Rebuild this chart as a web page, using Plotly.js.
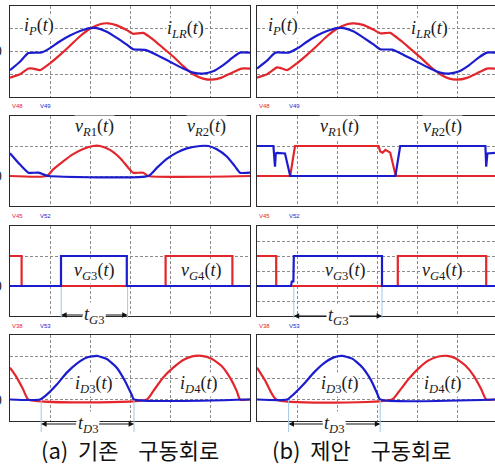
<!DOCTYPE html>
<html>
<head>
<meta charset="utf-8">
<script src="https://cdn.plot.ly/plotly-3.0.1.min.js"></script>
<style>html,body{margin:0;padding:0;background:#fff;}#chart{width:495px;height:467px;}</style>
</head>
<body>
<div id="chart"></div>
<script>
// ---- Data (time in grid divisions, amplitude in grid divisions) ----
// Row 1: currents i_P / i_LR
const r1L_redX = [0,0.25,0.46,0.58,0.75,1.0,1.25,1.5,1.75,2.0,2.25,2.46,2.67,2.92,3.08,3.33,3.58,3.83,4.08,4.33,4.58,4.83,5.04,5.29,5.54,5.79,6.0];
const r1L_redY = [-1.15,-1.0,-0.75,-0.75,-0.82,-0.52,-0.15,0.25,0.67,1.0,1.2,1.24,1.15,0.94,0.78,0.82,0.52,0.15,-0.22,-0.64,-1.0,-1.19,-1.24,-1.15,-0.94,-0.75,-0.75];
const r1L_bluX = [0,0.25,0.46,0.79,1.0,1.25,1.5,1.75,2.0,2.17,2.42,2.67,2.92,3.08,3.38,3.67,4.0,4.33,4.58,4.83,5.08,5.33,5.58,5.75,6.0];
const r1L_bluY = [-0.82,-0.45,-0.07,-0.04,0.15,0.45,0.7,0.9,1.03,1.03,0.87,0.6,0.3,0.1,0.07,-0.15,-0.45,-0.75,-0.93,-0.97,-0.87,-0.6,-0.25,-0.05,-0.05];
const r1R_redX = [0,0.25,0.5,0.58,0.75,1.0,1.25,1.5,1.75,2.0,2.25,2.42,2.67,2.92,3.08,3.33,3.58,3.83,4.08,4.33,4.58,4.79,5.0,5.25,5.5,5.75,5.95];
const r1R_redY = [-1.15,-1.0,-0.7,-0.72,-0.82,-0.52,-0.15,0.25,0.67,1.0,1.2,1.24,1.16,0.95,0.8,0.82,0.5,0.13,-0.25,-0.66,-1.0,-1.18,-1.24,-1.16,-0.96,-0.75,-0.75];
const r1R_bluX = [0,0.25,0.46,0.79,1.0,1.25,1.5,1.75,2.0,2.17,2.42,2.67,2.92,3.08,3.38,3.67,4.0,4.33,4.58,4.79,5.04,5.29,5.54,5.75,5.95];
const r1R_bluY = [-0.75,-0.4,-0.05,-0.05,0.13,0.43,0.7,0.9,1.03,1.03,0.88,0.6,0.3,0.1,0.08,-0.15,-0.45,-0.75,-0.93,-0.97,-0.88,-0.62,-0.27,-0.05,-0.05];
// Row 2: v_R1 / v_R2
const r2L_redX = [0,0.92,1.08,1.33,1.58,1.83,2.08,2.25,2.5,2.75,2.96,3.08,3.33,3.46,6.0];
const r2L_redY = [0,0,0.22,0.49,0.73,0.9,1.0,1.0,0.87,0.6,0.27,0.11,0.11,0,0];
const r2L_bluX = [0,0.25,0.46,0.71,0.9,0.96,3.46,3.67,3.92,4.17,4.42,4.75,4.96,5.17,5.42,5.62,5.75,6.0];
const r2L_bluY = [0.76,0.38,0.11,0.11,0.02,0,0,0.27,0.57,0.78,0.92,1.0,1.0,0.89,0.65,0.33,0.11,0.11];
const r2R_redX = [0,0.83,0.95,3.04,3.08,3.14,3.21,3.33,3.46,3.5,5.95];
const r2R_redY = [0,0,1,1,0.82,0.78,0.87,0.78,0.05,0,0];
const r2R_bluX = [0,0.41,0.45,0.47,0.5,0.7,0.83,3.46,3.58,5.71,5.73,5.76,5.95];
const r2R_bluY = [1,1,0.31,0.75,0.77,0.75,0,0,1,1,0.31,0.75,0.77];
// Row 3: gate signals v_G3 / v_G4
const r3L_redX = [0,0.29,0.29,3.89,3.89,5.56,5.56,6];
const r3L_redY = [1,1,0,0,1,1,0,0];
const r3L_bluX = [0,1.275,1.275,2.92,2.92,6];
const r3L_bluY = [0,0,1,1,0,0];
const r3R_redX = [0,0.48,0.48,3.52,3.52,5.73,5.73,5.95];
const r3R_redY = [1,1,0,0,1,1,0,0];
const r3R_bluX = [0,0.85,0.87,0.91,0.92,3.125,3.125,5.95];
const r3R_bluY = [0,0,0.15,0.15,1,1,0,0];
// Row 4: diode currents i_D3 / i_D4
const r4L_redX = [0,0.17,0.33,0.46,3.42,3.58,3.83,4.08,4.33,4.58,4.79,5.04,5.29,5.5,5.67,5.75,6];
const r4L_redY = [1.48,1.02,0.47,0,0,0.39,1.02,1.48,1.84,2.02,2.03,1.9,1.56,1.02,0.39,0,0];
const r4L_bluX = [0,0.75,0.92,1.17,1.42,1.67,1.92,2.17,2.42,2.67,2.875,3.04,3.1,6];
const r4L_bluY = [0,0,0.23,0.7,1.25,1.67,1.95,2.03,1.88,1.48,0.86,0.23,0,0];
const r4R_redX = [0,0.21,0.48,3.375,3.54,3.79,4.04,4.29,4.54,4.75,4.96,5.21,5.42,5.6,5.73,5.95];
const r4R_redY = [1.48,0.86,0,0,0.35,0.95,1.45,1.82,2.0,2.03,1.92,1.58,1.1,0.5,0,0];
const r4R_bluX = [0,0.75,0.92,1.17,1.42,1.67,1.92,2.125,2.38,2.63,2.85,3.0,3.08,5.95];
const r4R_bluY = [0,0,0.25,0.72,1.25,1.68,1.96,2.03,1.9,1.5,0.9,0.3,0,0];
// Interval markers (t_G3, t_D3) start/end in divisions
const tG3L = [1.28, 2.94];
const tG3R = [0.92, 3.125];
const tD3L = [0.78, 3.1];
const tD3R = [0.79, 3.08];
// Texts
const probeLabels = [["V48","V49"],["V45","V52"],["V38","V53"]];
const captions = ["(a)\u00a0\u00a0기존\u00a0\u00a0\u00a0\u00a0구동회로", "(b)\u00a0\u00a0제안\u00a0\u00a0\u00a0\u00a0구동회로"];

// ---- Layout helpers ----
const W = 495, H = 467;
const RED = '#e3262b', BLUE = '#1c1ccf';
const px = v => v / W, py = v => 1 - v / H;
const xDomL = [px(10), px(250)], xDomR = [px(257), 1];
const rows = [ [97, 6], [206, 116], [316, 226], [421, 335] ];
const yRanges = [[-2,2],[-1,2],[-1,2],[-1,3]];

function xa(dom, rng) {
  return {domain: dom, range: rng, dtick: 1, tick0: 0, showgrid: true, gridcolor: '#8c8c8c',
    griddash: '3px,2px', gridwidth: 1, zeroline: false, showline: true, mirror: true,
    linecolor: '#2a2a2a', linewidth: 1.2, showticklabels: false, ticks: '', fixedrange: true};
}
function ya(row, dtick) {
  const r = rows[row];
  return {domain: [py(r[0]), py(r[1])], range: yRanges[row], dtick: dtick, tick0: 0, showgrid: true,
    gridcolor: '#8c8c8c', griddash: '3px,2px', gridwidth: 1, zeroline: false, showline: true,
    mirror: true, linecolor: '#2a2a2a', linewidth: 1.2, showticklabels: false, ticks: '', fixedrange: true};
}

const layout = {
  width: W, height: H, margin: {l: 0, r: 0, t: 0, b: 0, pad: 0},
  paper_bgcolor: '#fff', plot_bgcolor: '#fff', showlegend: false,
  annotations: [], shapes: []
};
const ids = ['', '2', '3', '4', '5', '6', '7', '8'];
for (let row = 0; row < 4; row++) {
  for (let col = 0; col < 2; col++) {
    const k = row * 2 + col;
    layout['xaxis' + ids[k]] = xa(col === 0 ? xDomL : xDomR, col === 0 ? [0, 6] : [0, 5.95]);
    const dt = (row === 2 && col === 1) ? 0.5 : 1;
    layout['yaxis' + ids[k]] = ya(row, dt);
    layout['xaxis' + ids[k]].anchor = 'y' + ids[k];
    layout['yaxis' + ids[k]].anchor = 'x' + ids[k];
  }
}

const series = [
  [r1L_redX, r1L_redY, r1L_bluX, r1L_bluY, 'spline'],
  [r1R_redX, r1R_redY, r1R_bluX, r1R_bluY, 'spline'],
  [r2L_redX, r2L_redY, r2L_bluX, r2L_bluY, 'spline'],
  [r2R_redX, r2R_redY, r2R_bluX, r2R_bluY, 'linear'],
  [r3L_redX, r3L_redY, r3L_bluX, r3L_bluY, 'linear'],
  [r3R_redX, r3R_redY, r3R_bluX, r3R_bluY, 'linear'],
  [r4L_redX, r4L_redY, r4L_bluX, r4L_bluY, 'spline'],
  [r4R_redX, r4R_redY, r4R_bluX, r4R_bluY, 'spline']
];
const traces = [];
series.forEach((s, k) => {
  const xr = 'x' + ids[k], yr = 'y' + ids[k];
  traces.push({x: s[0], y: s[1], xaxis: xr, yaxis: yr, mode: 'lines', hoverinfo: 'skip',
    line: {color: RED, width: 2.2, shape: s[4], smoothing: 0.5}});
  traces.push({x: s[2], y: s[3], xaxis: xr, yaxis: yr, mode: 'lines', hoverinfo: 'skip',
    line: {color: BLUE, width: 2.2, shape: s[4], smoothing: 0.5}});
});

// ---- Annotations ----
const SERIF = 'Liberation Serif, DejaVu Serif, serif';
function lab(k, x, y, text) {
  layout.annotations.push({xref: 'x' + ids[k], yref: 'y' + ids[k], x: x, y: y, text: text,
    showarrow: false, xanchor: 'center', yanchor: 'middle', bgcolor: '#fff', borderpad: 0,
    font: {family: SERIF, size: 18, color: '#1a1a1a'}});
}
const I = (v, s, t) => '<i>' + v + '</i><sub>' + s + '</sub>(<i>t</i>)';
lab(0, 0.72, 1.12, I('i', '<i>P</i>'));
lab(0, 4.38, 0.95, I('i', '<i>LR</i>'));
lab(1, 0.65, 1.12, I('i', '<i>P</i>'));
lab(1, 4.32, 0.95, I('i', '<i>LR</i>'));
lab(2, 2.12, 1.62, I('v', '<i>R</i>1'));
lab(2, 4.9, 1.62, I('v', '<i>R</i>2'));
lab(3, 2.05, 1.62, I('v', '<i>R</i>1'));
lab(3, 4.63, 1.62, I('v', '<i>R</i>2'));
lab(4, 2.1, 0.47, I('v', '<i>G</i>3'));
lab(4, 4.78, 0.47, I('v', '<i>G</i>4'));
lab(5, 2.2, 0.47, I('v', '<i>G</i>3'));
lab(5, 4.63, 0.47, I('v', '<i>G</i>4'));
lab(6, 2.08, 0.72, I('i', '<i>D</i>3'));
lab(6, 4.7, 0.72, I('i', '<i>D</i>4'));
lab(7, 2.05, 0.72, I('i', '<i>D</i>3'));
lab(7, 4.63, 0.72, I('i', '<i>D</i>4'));

// "0" tick labels at the left edge
for (let row = 0; row < 4; row++) {
  layout.annotations.push({xref: 'paper', yref: 'y' + ids[row * 2], x: px(4), y: 0, text: '0',
    showarrow: false, xanchor: 'right', yanchor: 'middle',
    font: {family: 'Liberation Sans, Arial, sans-serif', size: 14, color: '#222'}});
}

// probe names under rows 1-3
const probeY = [106, 216, 326];
probeLabels.forEach((pair, row) => {
  [[10, 38], [257, 287]].forEach(xs => {
    layout.annotations.push({xref: 'paper', yref: 'paper', x: px(xs[0]), y: py(probeY[row]), text: pair[0],
      showarrow: false, xanchor: 'left', yanchor: 'middle', font: {family: 'Liberation Sans, sans-serif', size: 6, color: RED}});
    layout.annotations.push({xref: 'paper', yref: 'paper', x: px(xs[1]), y: py(probeY[row]), text: pair[1],
      showarrow: false, xanchor: 'left', yanchor: 'middle', font: {family: 'Liberation Sans, sans-serif', size: 6, color: BLUE}});
  });
});

// interval arrows
function interval(k, span, yPix, y0Pix, y1Pix, label) {
  const xr = 'x' + ids[k];
  const mid = (span[0] + span[1]) / 2;
  [span[0], span[1]].forEach(xv => {
    layout.shapes.push({type: 'line', xref: xr, yref: 'paper', x0: xv, x1: xv, y0: py(y0Pix), y1: py(y1Pix),
      line: {color: '#9fc9e6', width: 1}});
  });
  const base = {xref: xr, yref: 'paper', axref: xr, ayref: 'pixel', y: py(yPix), ay: 0, ax: mid,
    showarrow: true, arrowhead: 2, arrowsize: 0.9, arrowwidth: 1.2, arrowcolor: '#111', standoff: 0,
    text: label, xanchor: 'center', yanchor: 'middle', borderpad: 1,
    font: {family: SERIF, size: 18, color: '#1a1a1a'}};
  layout.annotations.push(Object.assign({}, base, {x: span[1], bgcolor: '#fff'}));
  layout.annotations.push(Object.assign({}, base, {x: span[0], font: {family: SERIF, size: 18, color: 'rgba(0,0,0,0)'}}));
}
const tG = '<i>t</i><sub><i>G</i>3</sub>', tD = '<i>t</i><sub><i>D</i>3</sub>';
interval(4, tG3L, 315, 287, 318, tG);
interval(5, tG3R, 316, 287, 318, tG);
interval(6, tD3L, 424, 400, 432, tD);
interval(7, tD3R, 424, 400, 432, tD);

// captions
[[130, captions[0]], [361, captions[1]]].forEach(c => {
  layout.annotations.push({xref: 'paper', yref: 'paper', x: px(c[0]), y: py(449), text: c[1],
    showarrow: false, xanchor: 'center', yanchor: 'middle',
    font: {family: 'Noto Sans CJK KR, Noto Sans, sans-serif', size: 22, color: '#111'}});
});

Plotly.newPlot('chart', traces, layout, {staticPlot: true, displayModeBar: false});
</script>
</body>
</html>
